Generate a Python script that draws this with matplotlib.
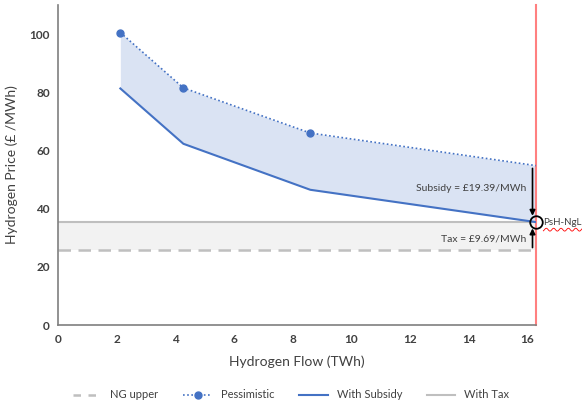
import numpy as np
import matplotlib
matplotlib.use("Agg")
from matplotlib import pyplot as plt
from matplotlib.lines import Line2D

plt.rcParams['font.family'] = ['Lato', 'DejaVu Sans']

# data
flow = [2.12, 4.27, 8.6, 16.3]
pessimistic = [100.5, 81.5, 66.0, 54.8]
with_subsidy = [81.3, 62.3, 46.5, 35.4]
tax_level = 35.4
ng_upper = 25.7
x_end = 16.3
subsidy_txt = "Subsidy = £19.39/MWh"
tax_txt = "Tax = £9.69/MWh"

blue = '#4472C4'
fill_blue = '#DAE3F3'
grey = '#BFBFBF'

fig = plt.figure(figsize=(5.82, 4.08), dpi=100)
ax = fig.add_axes([0.1, 0.203, 0.821, 0.785])

# shaded regions
ax.fill_between(flow, with_subsidy, pessimistic, color=fill_blue, lw=0, zorder=1)
ax.fill_between([0, x_end], [ng_upper]*2, [tax_level]*2, color='#F2F2F2', lw=0, zorder=1)

# lines
ax.plot([0, x_end], [ng_upper]*2, color=grey, lw=1.8, dashes=(5, 3), zorder=2)
ax.plot([0, x_end], [tax_level]*2, color=grey, lw=1.5, zorder=2)
ax.plot(flow, pessimistic, color=blue, lw=1.2, ls=(0, (1, 1.5)), zorder=3)
ax.plot(flow[:-1], pessimistic[:-1], 'o', color=blue, ms=5, zorder=4)
ax.plot(flow, with_subsidy, color=blue, lw=1.5, zorder=3)
ax.axvline(x_end, color='#FF8080', lw=1.5, zorder=2, clip_on=False)

# arrows and labels
ax.annotate('', xy=(x_end - 0.12, tax_level + 1.2), xytext=(x_end - 0.12, pessimistic[-1]),
            arrowprops=dict(arrowstyle='-|>', color='black', lw=1.2, mutation_scale=8))
ax.annotate('', xy=(x_end - 0.12, tax_level - 1.2), xytext=(x_end - 0.12, ng_upper),
            arrowprops=dict(arrowstyle='-|>', color='black', lw=1.2, mutation_scale=8))
ax.text(x_end - 0.35, 47, subsidy_txt, ha='right', va='center', fontsize=7.5, color='#404040')
ax.text(x_end - 0.35, 29.5, tax_txt, ha='right', va='center', fontsize=7.5, color='#404040')
ax.plot([x_end], [tax_level], 'o', ms=9, mfc='none', mec='black', mew=1.3, zorder=5, clip_on=False)
ax.text(x_end + 0.25, tax_level, 'PsH-NgL', ha='left', va='center', fontsize=7, color='#404040')
wx = np.linspace(x_end + 0.25, x_end + 1.75, 60)
ax.plot(wx, tax_level - 2.6 + 0.5*np.sin(wx*25), color='red', lw=0.6, clip_on=False)

ax.set_xlim(0, x_end)
ax.set_ylim(0, 110)
ax.set_xticks(range(0, 17, 2))
ax.set_yticks(range(0, 101, 20))
for lab in ax.get_xticklabels() + ax.get_yticklabels():
    lab.set_fontweight('bold')
    lab.set_fontsize(8.5)
ax.tick_params(length=0, pad=6, colors='#404040')
for s in ['top', 'right']:
    ax.spines[s].set_visible(False)
for s in ['left', 'bottom']:
    ax.spines[s].set_color('#7F7F7F')
    ax.spines[s].set_linewidth(1.2)

ax.set_xlabel('Hydrogen Flow (TWh)', fontsize=10, color='#404040', labelpad=8)
ax.set_ylabel('Hydrogen Price (£ /MWh)', fontsize=10, color='#404040', labelpad=8)

handles = [
    Line2D([], [], color=grey, lw=1.8, dashes=(3, 3)),
    Line2D([], [], color=blue, lw=1.2, ls=(0, (1, 1.5)), marker='o', ms=5),
    Line2D([], [], color=blue, lw=1.5),
    Line2D([], [], color=grey, lw=1.5),
]
fig.legend(handles, ['NG upper', 'Pessimistic', 'With Subsidy', 'With Tax'],
           loc='center', bbox_to_anchor=(0.5, 0.032), ncol=4, frameon=False,
           fontsize=8, handlelength=2.6, columnspacing=2.2, labelcolor='#404040')

fig.savefig('out.png', dpi=100)
